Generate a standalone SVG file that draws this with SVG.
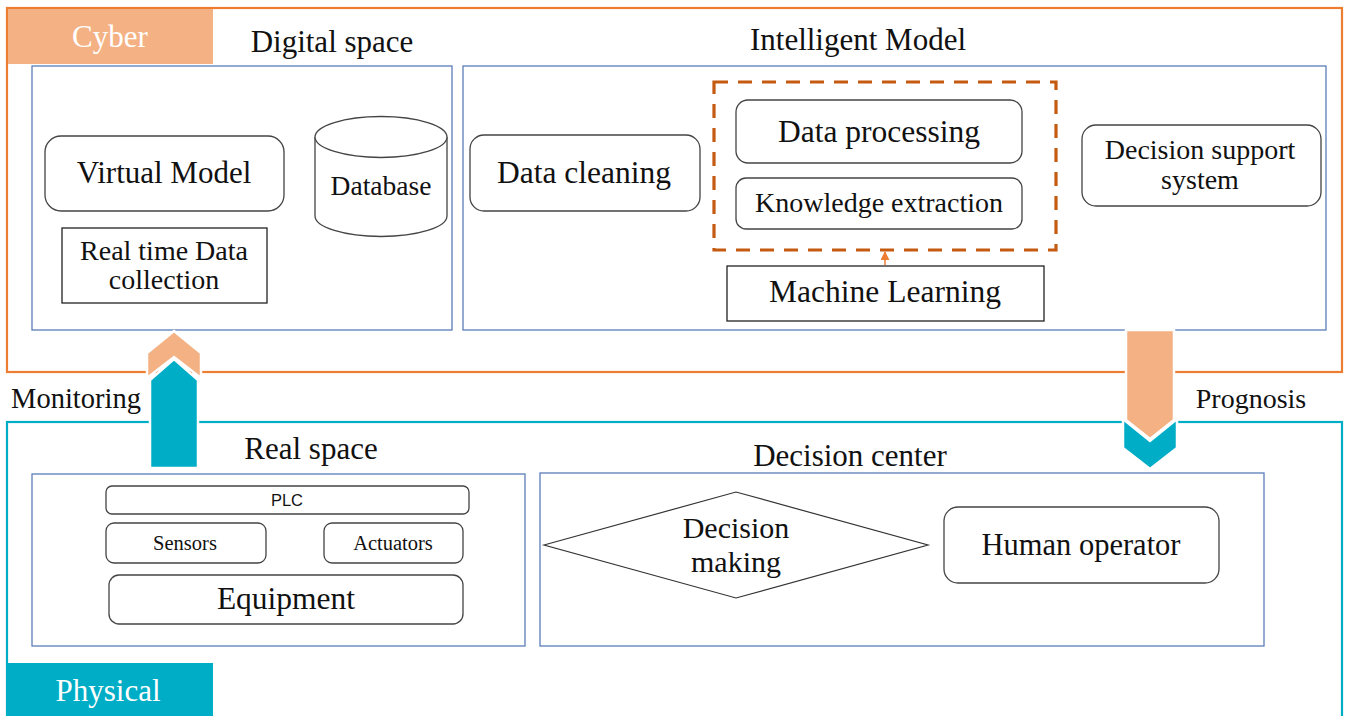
<svg xmlns="http://www.w3.org/2000/svg" width="1347" height="716" viewBox="0 0 1347 716">
<style>
text{font-family:'Liberation Serif','DejaVu Serif',serif}
.t{fill:#111;text-anchor:middle}
.s{font-family:'Liberation Sans','DejaVu Sans',sans-serif;fill:#111;text-anchor:middle}
.box{fill:#fff;stroke:#5B7DB8;stroke-width:1.3}
.nd{fill:#fff;stroke:#444;stroke-width:1.3}
.sq{fill:#fff;stroke:#222;stroke-width:1.3}
.wl{fill:#fff;text-anchor:middle}
</style>
<defs>
<marker id="ah" viewBox="0 0 10 10" refX="9" refY="5" markerWidth="6" markerHeight="6" orient="auto">
<path d="M0,0 L10,5 L0,10 z" fill="#ED7D31"/>
</marker>
</defs>
<rect width="1347" height="716" fill="#fff"/>

<g id="cyber-frame">
<rect x="7" y="8" width="1335" height="364" fill="none" stroke="#ED7D31" stroke-width="2.2"/>
<rect x="8" y="9" width="205" height="55" fill="#F4B183"/>
<text class="wl" x="110" y="47" font-size="31">Cyber</text>
</g>

<g id="physical-frame">
<rect x="7" y="422" width="1335" height="300" fill="none" stroke="#00ADC6" stroke-width="2.2"/>
<rect x="8" y="663" width="205" height="53" fill="#00ADC6"/>
<text class="wl" x="108" y="701" font-size="31">Physical</text>
</g>

<g id="digital-space">
<text class="t" x="332" y="52" font-size="31">Digital space</text>
<rect class="box" x="32" y="66" width="420" height="264"/>
</g>

<g id="intelligent-model">
<text class="t" x="858" y="50" font-size="31">Intelligent Model</text>
<rect class="box" x="463" y="66" width="863" height="264"/>
</g>

<g id="virtual-model">
<rect class="nd" x="45" y="136" width="239" height="75" rx="16"/>
<text class="t" x="164" y="183" font-size="31">Virtual Model</text>
</g>

<g id="database">
<path class="nd" d="M315,137 L315,216 A66,20.5 0 0 0 447,216 L447,137"/>
<ellipse class="nd" cx="381" cy="137" rx="66" ry="20.5"/>
<text class="t" x="381" y="195" font-size="27.5">Database</text>
</g>

<g id="realtime-data">
<rect class="sq" x="62" y="228" width="205" height="75"/>
<text class="t" x="164" y="260" font-size="28">Real time Data</text>
<text class="t" x="164" y="289" font-size="28">collection</text>
</g>

<g id="data-cleaning">
<rect class="nd" x="470" y="135" width="230" height="76" rx="14"/>
<text class="t" x="584" y="183" font-size="31.5">Data cleaning</text>
</g>

<g id="ml-group">
<rect x="714" y="82" width="342" height="168" fill="none" stroke="#C55A11" stroke-width="3.2" stroke-dasharray="14,10"/>
</g>

<g id="data-processing">
<rect class="nd" x="736" y="100" width="286" height="63" rx="12"/>
<text class="t" x="879" y="142" font-size="31.5">Data processing</text>
</g>

<g id="knowledge-extraction">
<rect class="nd" x="736" y="178" width="286" height="51" rx="10"/>
<text class="t" x="879" y="212" font-size="28">Knowledge extraction</text>
</g>

<g id="machine-learning">
<rect class="sq" x="727" y="266" width="317" height="55"/>
<text class="t" x="885" y="302" font-size="31.5">Machine Learning</text>
</g>

<g id="decision-support">
<rect class="nd" x="1082" y="125" width="239" height="81" rx="14"/>
<text class="t" x="1200" y="159" font-size="28">Decision support</text>
<text class="t" x="1200" y="189" font-size="28">system</text>
</g>

<g id="real-space">
<text class="t" x="311" y="459" font-size="31">Real space</text>
<rect class="box" x="32" y="474" width="493" height="172"/>
</g>

<g id="decision-center">
<text class="t" x="850" y="466" font-size="31">Decision center</text>
<rect class="box" x="540" y="473" width="724" height="173"/>
</g>

<g id="plc">
<rect class="nd" x="106" y="486" width="363" height="28" rx="6"/>
<text class="s" x="287" y="506" font-size="16.5">PLC</text>
</g>

<g id="sensors">
<rect class="nd" x="106" y="523" width="160" height="40" rx="8"/>
<text class="t" x="185" y="550" font-size="20.5">Sensors</text>
</g>

<g id="actuators">
<rect class="nd" x="324" y="523" width="139" height="40" rx="8"/>
<text class="t" x="393" y="550" font-size="20.5">Actuators</text>
</g>

<g id="equipment">
<rect class="nd" x="109" y="575" width="354" height="49" rx="10"/>
<text class="t" x="286" y="609" font-size="31.5">Equipment</text>
</g>

<g id="decision-making">
<polygon fill="#fff" stroke="#333" stroke-width="1.2" points="544,545 736,492 928,545 736,598"/>
<text class="t" x="736" y="538" font-size="30">Decision</text>
<text class="t" x="736" y="572" font-size="30">making</text>
</g>

<g id="human-operator">
<rect class="nd" x="944" y="507" width="275" height="76" rx="14"/>
<text class="t" x="1081" y="555" font-size="30.5">Human operator</text>
</g>

<g id="connectors">
<line x1="885" y1="265" x2="885" y2="252" stroke="#ED7D31" stroke-width="1.5" marker-end="url(#ah)"/>
<g id="monitoring-arrow" stroke="#fff" stroke-width="2.5" stroke-linejoin="miter">
<polygon fill="#F4B183" points="174,331 201,353 201,378 174,357 147,378 147,353"/>
<polygon fill="#00ADC6" points="174,359 198,380 198,468 150,468 150,380"/>
</g>
<g id="prognosis-arrow" stroke="#fff" stroke-width="2.5" stroke-linejoin="miter">
<polygon fill="#00ADC6" points="1123,419 1150,441 1177,419 1177,448 1150,469 1123,448"/>
<polygon fill="#F4B183" points="1126,330 1174,330 1174,420 1150,439 1126,420"/>
</g>
</g>

<text class="t" x="76" y="408" font-size="28.5">Monitoring</text>
<text class="t" x="1251" y="408" font-size="28">Prognosis</text>
</svg>
